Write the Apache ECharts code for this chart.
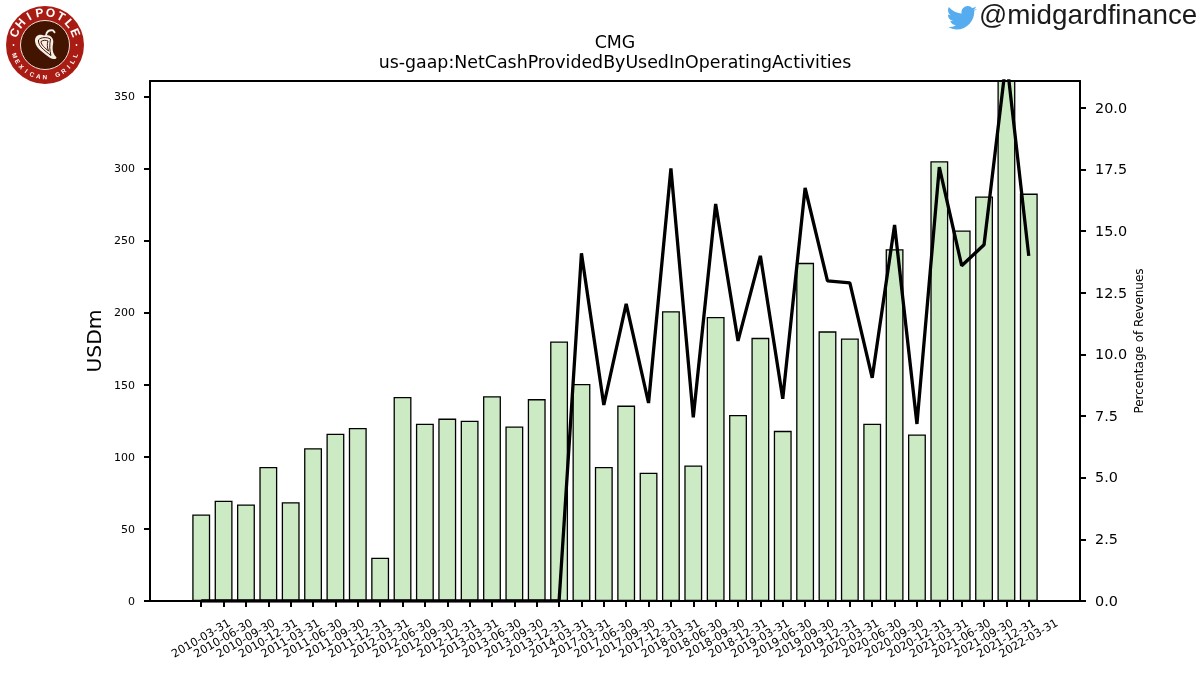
<!DOCTYPE html>
<html>
<head>
<meta charset="utf-8">
<style>html,body{margin:0;padding:0;background:#fff}#chart{width:1200px;height:675px}</style>
<script src="https://cdn.jsdelivr.net/npm/echarts@6/dist/echarts.min.js"></script>
</head>
<body>
<div id="chart"></div>
<script>
// Reporting period ends
const categories = [
  '2010-03-31','2010-06-30','2010-09-30','2010-12-31',
  '2011-03-31','2011-06-30','2011-09-30','2011-12-31',
  '2012-03-31','2012-06-30','2012-09-30','2012-12-31',
  '2013-03-31','2013-06-30','2013-09-30','2013-12-31',
  '2014-03-31',
  '2017-03-31','2017-06-30','2017-09-30','2017-12-31',
  '2018-03-31','2018-06-30','2018-09-30','2018-12-31',
  '2019-03-31','2019-06-30','2019-09-30','2019-12-31',
  '2020-03-31','2020-06-30','2020-09-30','2020-12-31',
  '2021-03-31','2021-06-30','2021-09-30','2021-12-31',
  '2022-03-31'
];
// Net cash from operating activities, USD millions
const cashFlow = [
  60, 69.5, 67, 93,
  68.5, 106, 116, 120,
  30, 141.5, 123, 126.5,
  125, 142, 121, 140,
  180,
  150.5, 93, 135.5, 89,
  201, 94, 197, 129,
  182.5, 118, 234.5, 187,
  182, 123, 244, 115.5,
  305, 257, 280.5, 372,
  282.5
];
// Operating cash flow as a percentage of revenues
const pctRevenue = [
  0, 0, 0, 0,
  0, 0, 0, 0,
  0, 0, 0, 0,
  0, 0, 0, 0,
  0,
  14.1, 7.95, 12.05, 8.03,
  17.55, 7.45, 16.1, 10.55,
  14.0, 8.2, 16.75, 12.98,
  12.9, 9.05, 15.25, 7.18,
  17.6, 13.6, 14.45, 22,
  14.0
];
const leftTicks = [0, 50, 100, 150, 200, 250, 300, 350];
const rightTicks = [0, 2.5, 5, 7.5, 10, 12.5, 15, 17.5, 20];
const positions = categories.map((_, i) => i);

const FONT = '"DejaVu Sans"';
const chart = echarts.init(document.getElementById('chart'), null, { renderer: 'canvas' });

// Letters of the round badge, set one by one along a circle
function arcText(text, radius, startDeg, stepDeg, font, flip) {
  const cx = 45, cy = 45;
  return Array.from(text).map((ch, i) => {
    const deg = startDeg + stepDeg * i;
    const rad = deg * Math.PI / 180;
    return {
      type: 'text',
      x: cx + radius * Math.sin(rad),
      y: cy - radius * Math.cos(rad),
      rotation: flip ? -(deg - 180) * Math.PI / 180 : -rad,
      style: { text: ch, fill: '#fff', font: font, align: 'center', verticalAlign: 'middle' }
    };
  });
}

const PEPPER = '#f6efe8', DARK = '#431500';
const badge = [
  { type: 'circle', shape: { cx: 45, cy: 45, r: 39 }, style: { fill: '#a81c14' } },
  { type: 'circle', shape: { cx: 45, cy: 45, r: 24.5 }, style: { fill: DARK, stroke: '#f3ded8', lineWidth: 1 } },
  { type: 'circle', shape: { cx: 13.5, cy: 45, r: 0.9 }, style: { fill: '#fff' } },
  { type: 'circle', shape: { cx: 76.5, cy: 45, r: 0.9 }, style: { fill: '#fff' } },
  // Pepper body, stem and ribs
  { type: 'path', shape: { pathData: 'M44 35.5 C39 33.5 34 36 35 42 C36 49 44 53 50 58 C53 60 57.5 59 56 57 C52 53 52 48 53 43 C54 38 49 34 44 35.5 Z', x: 35, y: 34.5, width: 21.5, height: 24.8 }, style: { fill: PEPPER } },
  { type: 'path', shape: { pathData: 'M46 35 C47 31 50 30 53 30.5 L55 33', x: 46, y: 30.2, width: 9, height: 4.8 }, style: { fill: 'none', stroke: PEPPER, lineWidth: 1.8 } },
  { type: 'path', shape: { pathData: 'M38.5 40 C38 46 44 50 51 55.5 C49.5 50 49.5 45 50.5 39 C47 37 41 37 38.5 40 Z', x: 38.4, y: 37.6, width: 12.6, height: 17.9 }, style: { fill: 'none', stroke: DARK, lineWidth: 1 } },
  { type: 'path', shape: { pathData: 'M41 41.5 C41 45 45 48 48.5 51 C47 47 47 44 48 41 C46 40 43 40 41 41.5 Z', x: 41, y: 40.3, width: 7.5, height: 10.7 }, style: { fill: 'none', stroke: DARK, lineWidth: 1 } },
  ...arcText('CHIPOTLE', 32, -68, 19.4, 'bold 12px "Liberation Sans"', false),
  ...arcText('MEXICAN GRILL', 32.5, 251, -11.8, 'bold 6.3px "Liberation Sans"', true)
];

const twitterBird = 'M23.953 4.57 a10 10 0 0 1 -2.825 .775 a4.958 4.958 0 0 0 2.163 -2.723 c-.951 .555 -2.005 .959 -3.127 1.184 a4.92 4.92 0 0 0 -8.384 4.482 C7.69 8.095 4.067 6.13 1.64 3.162 a4.822 4.822 0 0 0 -.666 2.475 c0 1.71 .87 3.213 2.188 4.096 a4.904 4.904 0 0 1 -2.228 -.616 v.06 a4.923 4.923 0 0 0 3.946 4.827 a4.996 4.996 0 0 1 -2.212 .085 a4.936 4.936 0 0 0 4.604 3.417 a9.867 9.867 0 0 1 -6.102 1.51 A13.995 13.995 0 0 0 7.548 21 c9.142 0 14.307 -7.721 14.307 -14.417 c0 -.21 0 -.42 -.015 -.63 A9.935 9.935 0 0 0 24 4.59 z';

const spine = { show: true, onZero: false, lineStyle: { color: '#000', width: 2 } };
const outerTick = { show: true, length: 6, lineStyle: { color: '#000', width: 2 } };

chart.setOption({
  animation: false,
  backgroundColor: '#fff',
  title: {
    text: 'CMG\nus-gaap:NetCashProvidedByUsedInOperatingActivities',
    left: 610, top: 28, textAlign: 'center',
    textStyle: { fontFamily: FONT, fontSize: 17.4, fontWeight: 'normal', color: '#000', lineHeight: 20 }
  },
  grid: { left: 150, top: 81, width: 930, height: 520 },
  xAxis: [
    {
      type: 'value', min: -2.29, max: 39.29, z: 10,
      splitLine: { show: false },
      axisLine: spine,
      axisTick: { ...outerTick, customValues: positions },
      axisLabel: {
        customValues: positions,
        formatter: v => categories[v],
        rotate: 30, align: 'center', verticalAlign: 'middle', margin: 38,
        fontFamily: FONT, fontSize: 11.3, color: '#000'
      }
    },
    {
      type: 'value', min: -2.29, max: 39.29, position: 'top', z: 10,
      splitLine: { show: false }, axisLine: spine, axisTick: { show: false }, axisLabel: { show: false }
    }
  ],
  yAxis: [
    {
      type: 'value', min: 0, max: 360.6, z: 10,
      name: 'USDm', nameLocation: 'middle', nameGap: 44, nameMoveOverlap: false,
      nameTextStyle: { fontFamily: FONT, fontSize: 20.3, color: '#000' },
      splitLine: { show: false },
      axisLine: spine,
      axisTick: { ...outerTick, customValues: leftTicks },
      axisLabel: { customValues: leftTicks, margin: 15, verticalAlign: 'top', lineHeight: 2, fontFamily: FONT, fontSize: 11, color: '#000' }
    },
    {
      type: 'value', min: 0, max: 21.09, position: 'right', z: 10,
      name: 'Percentage of Revenues', nameLocation: 'middle', nameGap: 54, nameMoveOverlap: false,
      nameTextStyle: { fontFamily: FONT, fontSize: 12, color: '#000' },
      splitLine: { show: false },
      axisLine: spine,
      axisTick: { ...outerTick, customValues: rightTicks },
      axisLabel: { customValues: rightTicks, formatter: v => v.toFixed(1), margin: 15, verticalAlign: 'top', lineHeight: 2, fontFamily: FONT, fontSize: 14.4, color: '#000' }
    }
  ],
  series: [
    {
      type: 'bar', xAxisIndex: 0, yAxisIndex: 0, barWidth: 17.9, z: 2,
      data: positions.map(i => [i, cashFlow[i]]),
      itemStyle: { color: '#ccebc5', borderColor: '#000', borderWidth: 1.3 }
    },
    {
      type: 'line', xAxisIndex: 0, yAxisIndex: 1, showSymbol: false, z: 3,
      data: positions.map(i => [i, pctRevenue[i]]),
      lineStyle: { color: '#000', width: 3.3 }
    },
    {
      // Badge and social handle in the page corners
      type: 'custom', coordinateSystem: 'none', z: 30, silent: true, data: [[0]],
      renderItem: () => ({
        type: 'group',
        children: [
          ...badge,
          { type: 'path', shape: { pathData: twitterBird, x: 948, y: 5.5, width: 29, height: 24.5 }, style: { fill: '#55acee' } },
          { type: 'text', x: 979, y: 16, style: { text: '@midgardfinance', fill: '#1a1a1a', font: '27.8px "Liberation Sans"', align: 'left', verticalAlign: 'middle' } }
        ]
      })
    }
  ]
});
</script>
</body>
</html>
